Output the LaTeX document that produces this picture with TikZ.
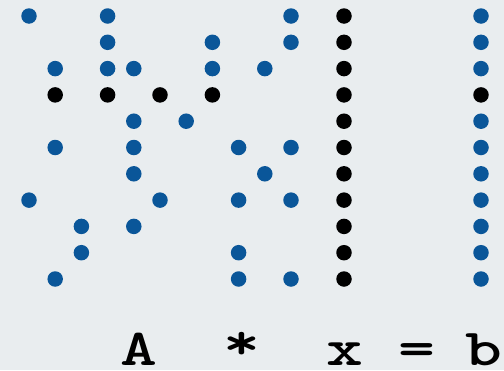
\documentclass[tikz,border=0pt]{standalone}
\usepackage{graphicx}
\definecolor{bg}{HTML}{E9EDEF}
\definecolor{dotblue}{HTML}{0A5699}
\newcommand{\wide}[1]{\scalebox{1.35}[1]{#1}}
\begin{document}
\begin{tikzpicture}[x=1pt,y=-1pt,
  nz/.style={circle,fill=dotblue,inner sep=0pt,minimum size=15.5pt},
  hot/.style={circle,fill=black,inner sep=0pt,minimum size=15.5pt},
  lbl/.style={font=\fontsize{52}{52}\selectfont\ttfamily\bfseries,inner sep=0pt,anchor=base}]
\fill[bg] (0,0) rectangle (504,370);
\useasboundingbox (0,0) rectangle (504,370);
% matrix A: nonzeros
\foreach \c/\r in {0/0,3/0,10/0, 3/1,7/1,10/1, 1/2,3/2,4/2,7/2,9/2,
  4/4,6/4, 1/5,4/5,8/5,10/5, 4/6,9/6, 0/7,5/7,8/7,10/7, 2/8,4/8, 2/9,8/9, 1/10,8/10,10/10}
  \node[nz] (a-\r-\c) at ({29+26.2*\c},{16+26.3*\r}) {};
% highlighted row
\foreach \c in {1,3,5,7}
  \node[hot] (a-3-\c) at ({29+26.2*\c},{16+26.3*3}) {};
% vector x
\foreach \r in {0,...,10}
  \node[hot] (x-\r) at (344,{16+26.3*\r}) {};
% vector b
\foreach \r in {0,1,2,4,5,6,7,8,9,10}
  \node[nz] (b-\r) at (481,{16+26.3*\r}) {};
\node[hot] (b-3) at (481,{16+26.3*3}) {};
% labels
\node[lbl] (lA) at (138.5,365) {\wide{A}};
\node[lbl] (lstar) at (242,359) {\wide{*}};
\node[lbl] (lx) at (345,365) {\wide{x}};
\node[lbl] (leq) at (417,365) {\wide{=}};
\node[lbl] (lb) at (484,365) {\wide{b}};
\end{tikzpicture}
\end{document}
